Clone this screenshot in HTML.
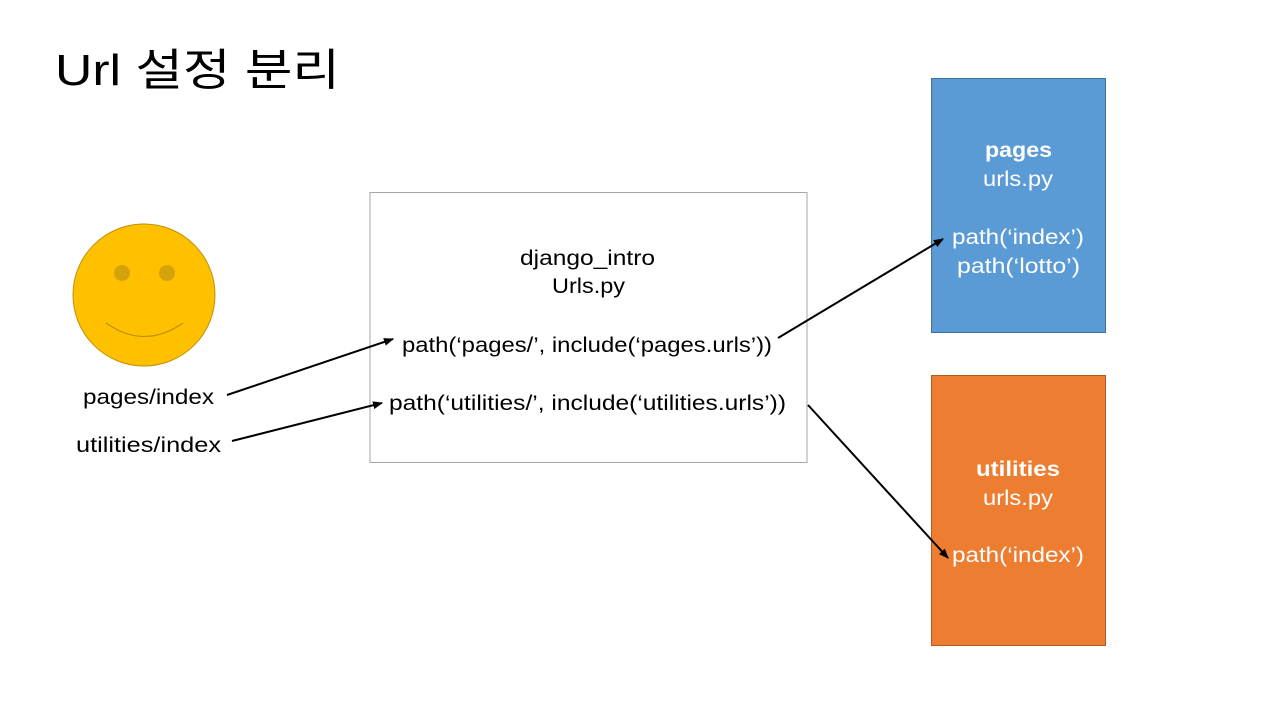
<!DOCTYPE html>
<html><head><meta charset="utf-8"><style>
html,body{margin:0;padding:0;background:#fff;}
svg{display:block;}
text{font-family:"Liberation Sans","Noto Sans CJK KR",sans-serif;}
</style></head><body>
<svg width="1280" height="720" viewBox="0 0 1280 720" xmlns="http://www.w3.org/2000/svg">
<defs>
<marker id="a" markerWidth="10" markerHeight="8" refX="9" refY="4" orient="auto" markerUnits="userSpaceOnUse">
<path d="M0,0 L10,4 L0,8 z" fill="#000"/></marker>
</defs>
<text x="55" y="85" font-size="44" textLength="285" lengthAdjust="spacingAndGlyphs">Url 설정 분리</text>
<circle cx="144" cy="295" r="71" fill="#FFC000" stroke="#C09000" stroke-width="1"/>
<circle cx="122" cy="273" r="8" fill="#D4A20A"/>
<circle cx="167" cy="273" r="8" fill="#D4A20A"/>
<path d="M106,323 Q144,350 183,323" fill="none" stroke="#C09000" stroke-width="1.2"/>
<text x="83" y="404" font-size="21" textLength="131" lengthAdjust="spacingAndGlyphs">pages/index</text>
<text x="76" y="452" font-size="21" textLength="145" lengthAdjust="spacingAndGlyphs">utilities/index</text>
<rect x="370" y="192.5" width="437" height="270" fill="#fff" stroke="#a6a6a6" stroke-width="1"/>
<text x="520" y="265" font-size="21" textLength="135" lengthAdjust="spacingAndGlyphs">django_intro</text>
<text x="552" y="293" font-size="21" textLength="73" lengthAdjust="spacingAndGlyphs">Urls.py</text>
<text x="402" y="352" font-size="21" textLength="370" lengthAdjust="spacingAndGlyphs">path(‘pages/’, include(‘pages.urls’))</text>
<text x="389" y="410" font-size="21" textLength="397" lengthAdjust="spacingAndGlyphs">path(‘utilities/’, include(‘utilities.urls’))</text>
<rect x="931.5" y="78.5" width="174" height="254" fill="#5B9BD5" stroke="#41719C" stroke-width="1"/>
<text x="985" y="157" font-size="21" font-weight="bold" fill="#fff" textLength="67" lengthAdjust="spacingAndGlyphs">pages</text>
<text x="983" y="186" font-size="21" fill="#fff" textLength="70" lengthAdjust="spacingAndGlyphs">urls.py</text>
<text x="952" y="244" font-size="21" fill="#fff" textLength="132" lengthAdjust="spacingAndGlyphs">path(‘index’)</text>
<text x="957" y="273" font-size="21" fill="#fff" textLength="123" lengthAdjust="spacingAndGlyphs">path(‘lotto’)</text>
<rect x="931.5" y="375.5" width="174" height="270" fill="#ED7D31" stroke="#AE5A21" stroke-width="1"/>
<text x="976" y="476" font-size="21" font-weight="bold" fill="#fff" textLength="84" lengthAdjust="spacingAndGlyphs">utilities</text>
<text x="983" y="505" font-size="21" fill="#fff" textLength="70" lengthAdjust="spacingAndGlyphs">urls.py</text>
<text x="952" y="562" font-size="21" fill="#fff" textLength="132" lengthAdjust="spacingAndGlyphs">path(‘index’)</text>
<line x1="227" y1="395" x2="393" y2="339" stroke="#000" stroke-width="2" marker-end="url(#a)"/>
<line x1="232" y1="441" x2="382" y2="403" stroke="#000" stroke-width="2" marker-end="url(#a)"/>
<line x1="778" y1="338" x2="943" y2="239" stroke="#000" stroke-width="2" marker-end="url(#a)"/>
<line x1="808" y1="405" x2="948" y2="558" stroke="#000" stroke-width="2" marker-end="url(#a)"/>
</svg>
</body></html>
